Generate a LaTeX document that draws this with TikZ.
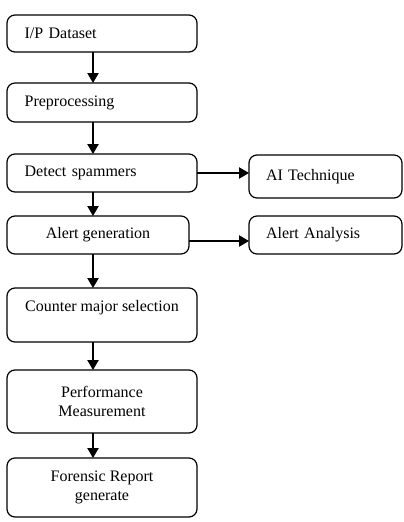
\documentclass[tikz,border=0pt]{standalone}
\usepackage{fontspec}
\setmainfont{Liberation Serif}
\usetikzlibrary{positioning,arrows.meta}

\begin{document}
\begin{tikzpicture}[x=0.75pt, y=-0.75pt, >={Triangle[length=7.5pt,width=8.5pt]},
      line width=0.9pt, font=\fontsize{12}{14}\selectfont,
      blk/.style={draw, rounded corners=6pt, inner sep=0pt, outer sep=0pt,
                  align=center, minimum width=142.5pt},
      lblk/.style={blk, align=left, text width=116pt, inner xsep=13.25pt},
      sblk/.style={draw, rounded corners=6pt, inner sep=0pt, outer sep=0pt,
                   align=left, text width=89.25pt, inner xsep=12.75pt}]
    \useasboundingbox (0,0) rectangle (404,522);
    \node[lblk, minimum height=27.75pt, anchor=north west] (ip) at (7,15) {I/P Dataset};
    \node[lblk, minimum height=29.25pt, below=23.25pt of ip.south west, anchor=north west] (pre) {Preprocessing};
    \node[lblk, minimum height=28.5pt, below=24pt of pre.south west, anchor=north west] (det) {Detect spammers};
    \node[blk, minimum width=136.5pt, minimum height=28.5pt, below=18pt of det.south west, anchor=north west] (alg) {Alert generation};
    \node[blk, minimum height=40.5pt, below=25.5pt of alg.south west, anchor=north west] (cms) {Counter major selection\\ \mbox{}};
    \node[blk, minimum height=47.25pt, below=21pt of cms.south west, anchor=north west] (perf) {Performance\\Measurement};
    \node[blk, minimum height=44.25pt, below=18.75pt of perf.south west, anchor=north west] (frg) {Forensic Report\\generate};
    \node[sblk, minimum height=32.25pt, right=39pt of det.north east, anchor=north west, yshift=-0.75pt] (ai) {AI Technique};
    \node[sblk, minimum height=28.5pt, right=45pt of alg.north east, anchor=north west] (aa) {Alert Analysis};
    \coordinate (col) at (93,0);
    \draw[->] (ip.south -| col) -- (pre.north -| col);
    \draw[->] (pre.south -| col) -- (det.north -| col);
    \draw[->] (det.south -| col) -- (alg.north -| col);
    \draw[->] (alg.south -| col) -- (cms.north -| col);
    \draw[->] (cms.south -| col) -- (perf.north -| col);
    \draw[->] (perf.south -| col) -- (frg.north -| col);
    \draw[->] (det.east) -- (det.east -| ai.west);
    \draw[->] ([yshift=-4.5pt]alg.east) -- ([yshift=-4.5pt]aa.west);
\end{tikzpicture}
\end{document}
